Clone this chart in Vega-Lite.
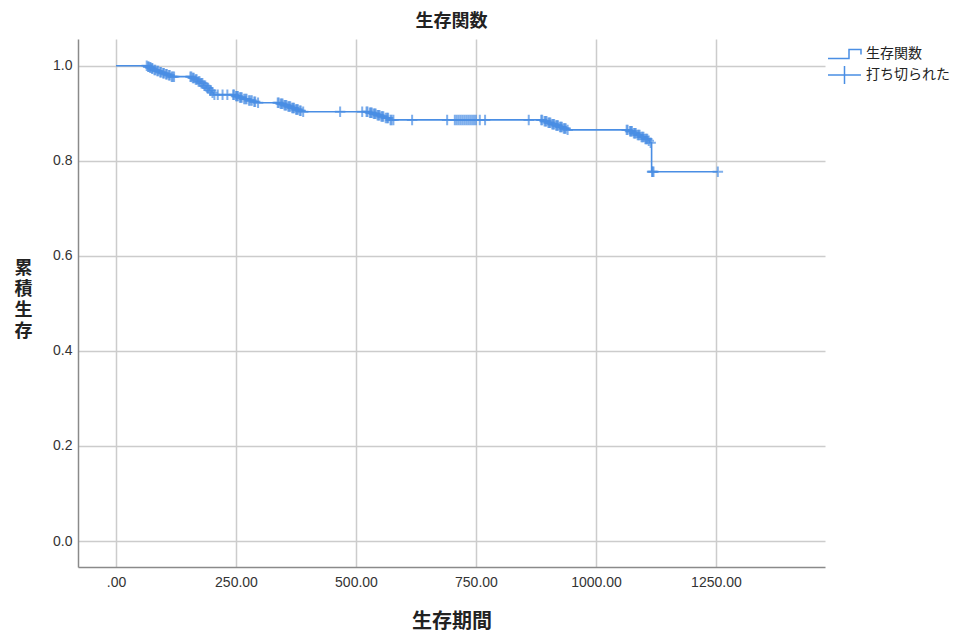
{
  "$schema": "https://vega.github.io/schema/vega-lite/v6.json",
  "width": 747,
  "height": 528,
  "autosize": {"type": "none"},
  "padding": {"left": 78, "top": 39, "right": 143, "bottom": 68},
  "background": "white",
  "title": {"text": "生存関数", "font": "Noto Sans CJK JP", "fontSize": 18, "fontWeight": "bold", "color": "#222222", "offset": 8},
  "config": {
    "view": {"stroke": null},
    "axis": {
      "domainColor": "#8a8a8a", "domainWidth": 1.5,
      "gridColor": "#cccccc", "gridWidth": 1.5,
      "ticks": false,
      "labelFont": "Liberation Sans", "labelFontSize": 14, "labelColor": "#333333",
      "titleFont": "Noto Sans CJK JP", "titleFontWeight": "bold", "titleColor": "#222222"
    }
  },
  "data": {"values": [
    {"t":0,"s":1,"c":0},
    {"t":64,"s":1,"c":1},
    {"t":66,"s":0.998,"c":0},{"t":67,"s":0.998,"c":1},{"t":68,"s":0.998,"c":1},
    {"t":70,"s":0.996,"c":0},{"t":71,"s":0.996,"c":1},{"t":72,"s":0.996,"c":1},
    {"t":74,"s":0.994,"c":0},{"t":75,"s":0.994,"c":1},{"t":76,"s":0.994,"c":1},
    {"t":79,"s":0.991,"c":0},{"t":80,"s":0.991,"c":1},{"t":82,"s":0.991,"c":1},
    {"t":84,"s":0.989,"c":0},{"t":86,"s":0.989,"c":1},{"t":88,"s":0.989,"c":1},
    {"t":90,"s":0.986,"c":0},{"t":92,"s":0.986,"c":1},{"t":94,"s":0.986,"c":1},
    {"t":96,"s":0.984,"c":0},{"t":98,"s":0.984,"c":1},{"t":100,"s":0.984,"c":1},
    {"t":102,"s":0.982,"c":0},{"t":104,"s":0.982,"c":1},{"t":106,"s":0.982,"c":1},
    {"t":108,"s":0.980,"c":0},{"t":110,"s":0.980,"c":1},{"t":112,"s":0.980,"c":1},
    {"t":114,"s":0.977,"c":0},{"t":116,"s":0.977,"c":1},{"t":118,"s":0.977,"c":1},
    {"t":121,"s":0.977,"c":1},
    {"t":155,"s":0.977,"c":1},{"t":157,"s":0.977,"c":1},
    {"t":158,"s":0.974,"c":0},{"t":160,"s":0.974,"c":1},{"t":162,"s":0.974,"c":1},
    {"t":164,"s":0.971,"c":0},{"t":166,"s":0.971,"c":1},{"t":168,"s":0.971,"c":1},
    {"t":170,"s":0.967,"c":0},{"t":172,"s":0.967,"c":1},{"t":174,"s":0.967,"c":1},
    {"t":176,"s":0.963,"c":0},{"t":178,"s":0.963,"c":1},{"t":180,"s":0.963,"c":1},
    {"t":182,"s":0.958,"c":0},{"t":184,"s":0.958,"c":1},{"t":186,"s":0.958,"c":1},
    {"t":188,"s":0.953,"c":0},{"t":190,"s":0.953,"c":1},{"t":192,"s":0.953,"c":1},
    {"t":194,"s":0.948,"c":0},{"t":196,"s":0.948,"c":1},{"t":198,"s":0.948,"c":1},
    {"t":200,"s":0.943,"c":0},{"t":201,"s":0.943,"c":1},{"t":203,"s":0.939,"c":0},
    {"t":205,"s":0.939,"c":1},{"t":212,"s":0.939,"c":1},{"t":222,"s":0.939,"c":1},{"t":232,"s":0.939,"c":1},
    {"t":244,"s":0.939,"c":1},{"t":246,"s":0.939,"c":1},
    {"t":248,"s":0.936,"c":0},{"t":250,"s":0.936,"c":1},{"t":252,"s":0.936,"c":1},{"t":254,"s":0.936,"c":1},
    {"t":256,"s":0.933,"c":0},{"t":258,"s":0.933,"c":1},{"t":260,"s":0.933,"c":1},{"t":262,"s":0.933,"c":1},
    {"t":265,"s":0.930,"c":0},{"t":267,"s":0.930,"c":1},{"t":270,"s":0.930,"c":1},{"t":272,"s":0.930,"c":1},
    {"t":275,"s":0.927,"c":0},{"t":277,"s":0.927,"c":1},{"t":280,"s":0.927,"c":1},{"t":283,"s":0.927,"c":1},
    {"t":286,"s":0.924,"c":0},{"t":288,"s":0.924,"c":1},{"t":290,"s":0.924,"c":1},
    {"t":294,"s":0.922,"c":0},{"t":296,"s":0.922,"c":1},
    {"t":337,"s":0.922,"c":1},{"t":339,"s":0.922,"c":1},
    {"t":341,"s":0.920,"c":0},{"t":343,"s":0.920,"c":1},{"t":345,"s":0.920,"c":1},{"t":347,"s":0.920,"c":1},
    {"t":349,"s":0.917,"c":0},{"t":351,"s":0.917,"c":1},{"t":353,"s":0.917,"c":1},{"t":355,"s":0.917,"c":1},
    {"t":357,"s":0.914,"c":0},{"t":359,"s":0.914,"c":1},{"t":361,"s":0.914,"c":1},{"t":363,"s":0.914,"c":1},
    {"t":365,"s":0.911,"c":0},{"t":367,"s":0.911,"c":1},{"t":369,"s":0.911,"c":1},{"t":371,"s":0.911,"c":1},
    {"t":373,"s":0.908,"c":0},{"t":375,"s":0.908,"c":1},{"t":377,"s":0.908,"c":1},{"t":379,"s":0.908,"c":1},
    {"t":381,"s":0.905,"c":0},{"t":383,"s":0.905,"c":1},{"t":385,"s":0.905,"c":1},
    {"t":388,"s":0.903,"c":0},{"t":390,"s":0.903,"c":1},
    {"t":467,"s":0.903,"c":1},{"t":513,"s":0.903,"c":1},
    {"t":522,"s":0.903,"c":1},{"t":524,"s":0.903,"c":1},
    {"t":527,"s":0.901,"c":0},{"t":529,"s":0.901,"c":1},{"t":531,"s":0.901,"c":1},{"t":533,"s":0.901,"c":1},
    {"t":535,"s":0.899,"c":0},{"t":537,"s":0.899,"c":1},{"t":539,"s":0.899,"c":1},{"t":541,"s":0.899,"c":1},
    {"t":543,"s":0.896,"c":0},{"t":545,"s":0.896,"c":1},{"t":547,"s":0.896,"c":1},{"t":549,"s":0.896,"c":1},
    {"t":551,"s":0.893,"c":0},{"t":553,"s":0.893,"c":1},{"t":555,"s":0.893,"c":1},{"t":557,"s":0.893,"c":1},
    {"t":560,"s":0.890,"c":0},{"t":562,"s":0.890,"c":1},{"t":565,"s":0.890,"c":1},{"t":567,"s":0.890,"c":1},
    {"t":570,"s":0.886,"c":0},{"t":572,"s":0.886,"c":1},{"t":574,"s":0.886,"c":1},
    {"t":578,"s":0.886,"c":1},{"t":617,"s":0.886,"c":1},{"t":690,"s":0.886,"c":1},
    {"t":706,"s":0.886,"c":1},{"t":710,"s":0.886,"c":1},{"t":714,"s":0.886,"c":1},{"t":718,"s":0.886,"c":1},
    {"t":722,"s":0.886,"c":1},{"t":726,"s":0.886,"c":1},{"t":730,"s":0.886,"c":1},{"t":734,"s":0.886,"c":1},
    {"t":738,"s":0.886,"c":1},{"t":742,"s":0.886,"c":1},{"t":746,"s":0.886,"c":1},{"t":750,"s":0.886,"c":1},
    {"t":758,"s":0.886,"c":1},{"t":769,"s":0.886,"c":1},{"t":860,"s":0.886,"c":1},
    {"t":886,"s":0.886,"c":1},{"t":888,"s":0.886,"c":1},
    {"t":891,"s":0.883,"c":0},{"t":893,"s":0.883,"c":1},{"t":895,"s":0.883,"c":1},{"t":897,"s":0.883,"c":1},
    {"t":899,"s":0.880,"c":0},{"t":901,"s":0.880,"c":1},{"t":903,"s":0.880,"c":1},{"t":905,"s":0.880,"c":1},
    {"t":907,"s":0.877,"c":0},{"t":909,"s":0.877,"c":1},{"t":911,"s":0.877,"c":1},{"t":913,"s":0.877,"c":1},
    {"t":915,"s":0.874,"c":0},{"t":917,"s":0.874,"c":1},{"t":919,"s":0.874,"c":1},{"t":921,"s":0.874,"c":1},
    {"t":923,"s":0.871,"c":0},{"t":925,"s":0.871,"c":1},{"t":927,"s":0.871,"c":1},{"t":929,"s":0.871,"c":1},
    {"t":931,"s":0.868,"c":0},{"t":933,"s":0.868,"c":1},{"t":935,"s":0.868,"c":1},{"t":937,"s":0.868,"c":1},
    {"t":939,"s":0.865,"c":0},{"t":941,"s":0.865,"c":1},
    {"t":1064,"s":0.865,"c":1},{"t":1066,"s":0.865,"c":1},
    {"t":1069,"s":0.862,"c":0},{"t":1071,"s":0.862,"c":1},{"t":1073,"s":0.862,"c":1},{"t":1075,"s":0.862,"c":1},
    {"t":1077,"s":0.858,"c":0},{"t":1079,"s":0.858,"c":1},{"t":1081,"s":0.858,"c":1},{"t":1083,"s":0.858,"c":1},
    {"t":1085,"s":0.854,"c":0},{"t":1087,"s":0.854,"c":1},{"t":1089,"s":0.854,"c":1},{"t":1091,"s":0.854,"c":1},
    {"t":1093,"s":0.850,"c":0},{"t":1095,"s":0.850,"c":1},{"t":1097,"s":0.850,"c":1},{"t":1099,"s":0.850,"c":1},
    {"t":1101,"s":0.846,"c":0},{"t":1103,"s":0.846,"c":1},{"t":1105,"s":0.846,"c":1},{"t":1107,"s":0.846,"c":1},
    {"t":1109,"s":0.842,"c":0},{"t":1110,"s":0.842,"c":1},{"t":1112,"s":0.838,"c":0},
    {"t":1114,"s":0.838,"c":1},
    {"t":1116,"s":0.777,"c":0},{"t":1117,"s":0.777,"c":1},{"t":1118,"s":0.777,"c":1},{"t":1120,"s":0.777,"c":1},
    {"t":1254,"s":0.777,"c":1}
  ]},
  "layer": [
    {
      "mark": {"type": "line", "interpolate": "step-after", "color": "#4a8ee4", "strokeWidth": 1.6},
      "encoding": {
        "x": {
          "field": "t", "type": "quantitative",
          "scale": {"domain": [-79.2, 1477.3], "nice": false, "zero": false},
          "axis": {
            "values": [0, 250, 500, 750, 1000, 1250],
            "labelExpr": "datum.value == 0 ? '.00' : format(datum.value, '.2f')",
            "labelPadding": 8,
            "title": "生存期間", "titleFontSize": 20,
            "titleY": 54, "titleBaseline": "middle"
          }
        },
        "y": {
          "field": "s", "type": "quantitative",
          "scale": {"domain": [-0.0547, 1.0562], "nice": false, "zero": false},
          "axis": {
            "values": [0, 0.2, 0.4, 0.6, 0.8, 1.0],
            "format": ".1f",
            "labelPadding": 6,
            "title": ["累", "積", "生", "存"], "titleFontSize": 18,
            "titleAngle": 0, "titleAlign": "center", "titleBaseline": "middle",
            "titleLineHeight": 21,
            "titleX": -55, "titleY": 229
          }
        },
        "order": {"field": "t", "type": "quantitative"}
      }
    },
    {
      "transform": [{"filter": "datum.c == 1"}],
      "mark": {"type": "point", "shape": "M-1,0L1,0M0,-1L0,1", "filled": false, "color": "#4a8ee4", "size": 110, "strokeWidth": 2},
      "encoding": {
        "x": {"field": "t", "type": "quantitative"},
        "y": {"field": "s", "type": "quantitative"}
      }
    },
    {
      "transform": [{"filter": "datum.c == 1"}],
      "mark": {"type": "point", "filled": false, "color": "#4a8ee4", "opacity": 0, "size": 400},
      "encoding": {
        "x": {"field": "t", "type": "quantitative"},
        "y": {"field": "s", "type": "quantitative"},
        "shape": {
          "datum": "打ち切られた", "type": "nominal",
          "scale": {
            "domain": ["生存関数", "打ち切られた"],
            "range": ["M-1.65,0.45L0.45,0.45L0.45,-0.45L1.65,-0.45L1.65,0.05", "M-1.65,0L1.65,0M0,-0.9L0,0.9"]
          },
          "legend": {
            "title": null,
            "orient": "none", "legendX": 755.5, "legendY": 4,
            "padding": 0,
            "symbolSize": 400, "symbolStrokeColor": "#4a8ee4", "symbolFillColor": "transparent",
            "symbolStrokeWidth": 1.5, "symbolOpacity": 1,
            "labelFont": "Noto Sans CJK JP", "labelFontSize": 14, "labelColor": "#222222",
            "labelOffset": 10.5, "rowPadding": 1
          }
        }
      }
    }
  ]
}
